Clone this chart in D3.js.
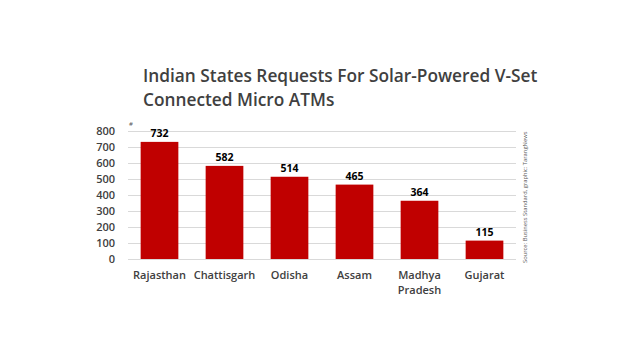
<!DOCTYPE html>
<html><head><meta charset="utf-8">
<script src="https://cdn.jsdelivr.net/npm/d3@7"></script>
<style>body{margin:0;background:#fff;}svg{display:block;font-family:"Open Sans",sans-serif;}</style>
</head><body>
<svg id="c" width="640" height="360"></svg>
<script>
const categories = ["Rajasthan","Chattisgarh","Odisha","Assam","Madhya Pradesh","Gujarat"];
const values = [732,582,514,465,364,115];
const yTicks = [0,100,200,300,400,500,600,700,800];
const titleLines = ["Indian States Requests For Solar-Powered V-Set","Connected Micro ATMs"];
const source = "Source: Business Standard, graphic: TarangNews";

const svg = d3.select("#c");
const x = d3.scaleBand().domain(categories).range([127,517]).paddingInner(0.42).paddingOuter(0.21);
const y = d3.scaleLinear().domain([0,800]).range([259,131]);

svg.append("g").selectAll("text").data(titleLines).join("text")
  .attr("x",143).attr("y",(d,i)=>82+i*24)
  .attr("font-size",17.3).attr("font-weight",600).attr("fill","#404040").text(d=>d);

svg.append("g").selectAll("line").data(yTicks).join("line")
  .attr("x1",128).attr("x2",516).attr("y1",d=>y(d)+0.5).attr("y2",d=>y(d)+0.5)
  .attr("stroke","#d9d9d9").attr("stroke-width",1);

svg.append("g").selectAll("text").data(yTicks).join("text")
  .attr("x",115).attr("y",d=>y(d)+4).attr("text-anchor","end")
  .attr("font-size",11).attr("font-weight",600).attr("fill","#404040").text(d=>d);

svg.append("text").attr("x",129).attr("y",126).attr("font-size",6).attr("fill","#595959").text("#");

svg.append("g").selectAll("rect").data(values).join("rect")
  .attr("x",(d,i)=>x(categories[i])).attr("width",x.bandwidth())
  .attr("y",d=>y(d)).attr("height",d=>y(0)-y(d)).attr("fill","#c00000");

svg.append("g").selectAll("text").data(values).join("text")
  .attr("x",(d,i)=>x(categories[i])+x.bandwidth()/2).attr("y",d=>y(d)-5)
  .attr("text-anchor","middle").attr("font-size",10.5).attr("font-weight",700).attr("fill","#000").text(d=>d);

const cl = svg.append("g").selectAll("text").data(categories).join("text")
  .attr("x",d=>x(d)+x.bandwidth()/2).attr("y",279)
  .attr("text-anchor","middle").attr("font-size",11).attr("font-weight",600).attr("fill","#404040");
cl.each(function(d){
  const parts = d==="Madhya Pradesh" ? ["Madhya","Pradesh"] : [d];
  d3.select(this).selectAll("tspan").data(parts).join("tspan")
    .attr("x",x(d)+x.bandwidth()/2).attr("dy",(p,i)=>i?15:0).text(p=>p);
});

svg.append("text").attr("transform","translate(527,263) rotate(-90)")
  .attr("font-size",5.8).attr("fill","#595959").text(source);
</script>
</body></html>
